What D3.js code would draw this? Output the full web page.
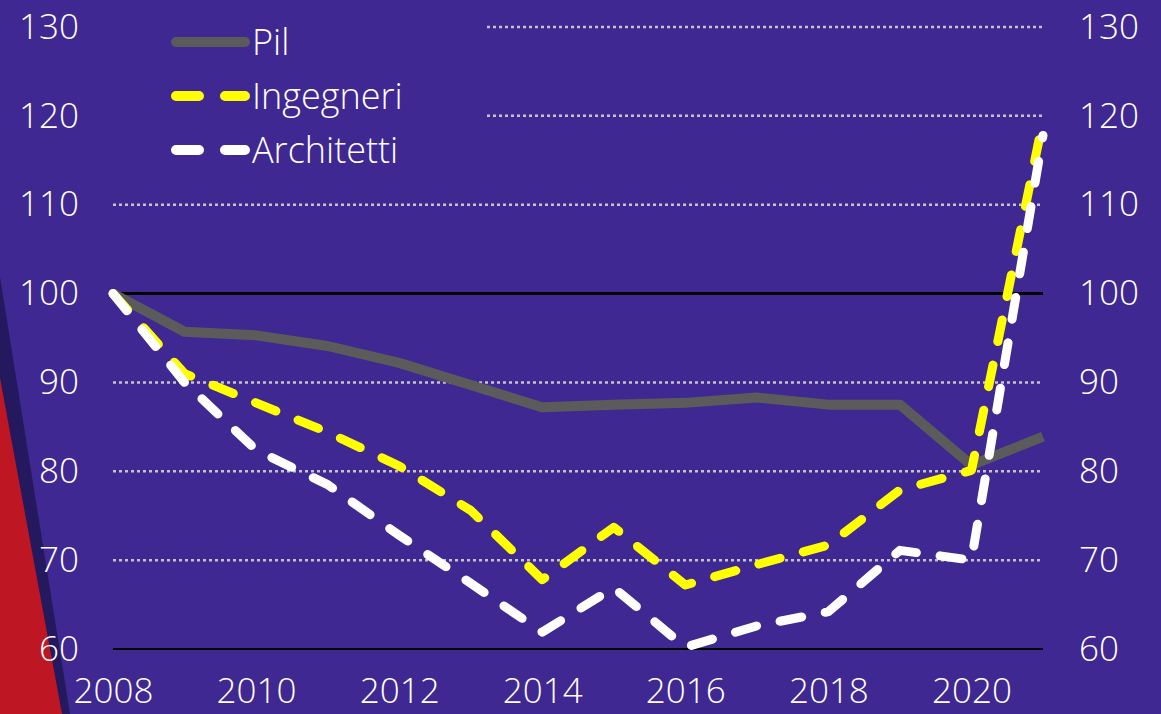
<!DOCTYPE html>
<html>
<head>
<meta charset="utf-8">
<script src="https://cdn.jsdelivr.net/npm/d3@7"></script>
<style>
  html, body { margin: 0; padding: 0; background: #3f2891; overflow: hidden; }
  svg text { font-family: "Open Sans", Lato, sans-serif; font-weight: 300; fill: #fff; }
  .axis .domain { display: none; }
</style>
</head>
<body>
<script>
// data, index 2008 = 100
const years = [2008, 2009, 2010, 2011, 2012, 2013, 2014, 2015, 2016, 2017, 2018, 2019, 2020, 2021]
const pil = [100, 95.7, 95.3, 94.1, 92.2, 89.7, 87.2, 87.5, 87.7, 88.3, 87.5, 87.5, 80.7, 83.9]
const ingegneri = [100, 91, 87.7, 84.4, 80.6, 75.6, 67.8, 73.7, 67.2, 69.5, 71.7, 77.9, 80.1, 119.5]
const architetti = [100, 90, 82.4, 78.5, 72.8, 67.4, 61.9, 66.9, 60.2, 62.6, 64.2, 71.1, 70.0, 117.8]
const yTicks = [60, 70, 80, 90, 100, 110, 120, 130]
const xTicks = [2008, 2010, 2012, 2014, 2016, 2018, 2020]
const seriesNames = ["Pil", "Ingegneri", "Architetti"]

const W = 1161, H = 714

const svg = d3.select("body").append("svg")
  .attr("width", W)
  .attr("height", H)

// background wedges on the left
svg.append("polygon").attr("points", "0,277 70,714 0,714").attr("fill", "#24195e")
svg.append("polygon").attr("points", "0,378 62,714 0,714").attr("fill", "#be1622")

var x = d3.scaleLinear().domain([2008, 2021]).range([113, 1043])
var y = d3.scaleLinear().domain([60, 130]).range([649, 27])

// gridlines
var grid = svg.append("g")
grid.selectAll("line")
  .data(yTicks)
  .enter().append("line")
  .attr("x1", function(d) { return d >= 120 ? 487 : x(2008) })
  .attr("x2", x(2021))
  .attr("y1", function(d) { return y(d) })
  .attr("y2", function(d) { return y(d) })
  .attr("stroke", function(d) { return (d == 100 || d == 60) ? "#000" : "#c4c4cc" })
  .attr("stroke-width", function(d) { return d == 100 ? 3 : (d == 60 ? 2 : 2.5) })
  .attr("stroke-dasharray", function(d) { return (d == 100 || d == 60) ? null : "3,3" })

// axes
var yLeft = d3.axisLeft(y).tickValues(yTicks).tickSize(0).tickPadding(0)
var yRight = d3.axisRight(y).tickValues(yTicks).tickSize(0).tickPadding(0)
var xAxis = d3.axisBottom(x).tickValues(xTicks).tickSize(0).tickFormat(d3.format("d"))

svg.append("g").attr("class", "axis")
  .attr("transform", "translate(79,0)")
  .call(yLeft)
svg.append("g").attr("class", "axis")
  .attr("transform", "translate(1079,0)")
  .call(yRight)
svg.append("g").attr("class", "axis xaxis")
  .attr("transform", "translate(0,675)")
  .call(xAxis)

svg.selectAll(".axis text")
  .attr("fill", "#fff")
  .style("font-size", "35px")
  .style("font-family", "\"Open Sans\", sans-serif")
svg.selectAll(".axis .tick line").remove()

// lines
var line = d3.line()
  .x(function(d, i) { return x(years[i]) })
  .y(function(d) { return y(d) })

var styles = [
  { data: pil, color: "#5b5b5b", dash: null, width: 10 },
  { data: ingegneri, color: "#ffff00", dash: "22,24", width: 9 },
  { data: architetti, color: "#ffffff", dash: "22,24", width: 9 }
]

styles.forEach(function(s) {
  svg.append("path")
    .datum(s.data)
    .attr("d", line)
    .attr("fill", "none")
    .attr("stroke", s.color)
    .attr("stroke-width", s.width)
    .attr("stroke-linecap", s.dash ? "round" : "butt")
    .attr("stroke-linejoin", "round")
    .attr("stroke-dasharray", s.dash)
})

// legend
var legend = svg.append("g")
seriesNames.forEach(function(name, i) {
  var ly = 42 + i * 54
  legend.append("line")
    .attr("x1", 176).attr("x2", 245)
    .attr("y1", ly).attr("y2", ly)
    .attr("stroke", styles[i].color)
    .attr("stroke-width", 10)
    .attr("stroke-linecap", "round")
    .attr("stroke-dasharray", styles[i].dash ? "23,26" : null)
  legend.append("text")
    .attr("x", 252)
    .attr("y", ly + 13)
    .style("font-size", "36px")
    .text(name)
})
</script>
</body>
</html>
